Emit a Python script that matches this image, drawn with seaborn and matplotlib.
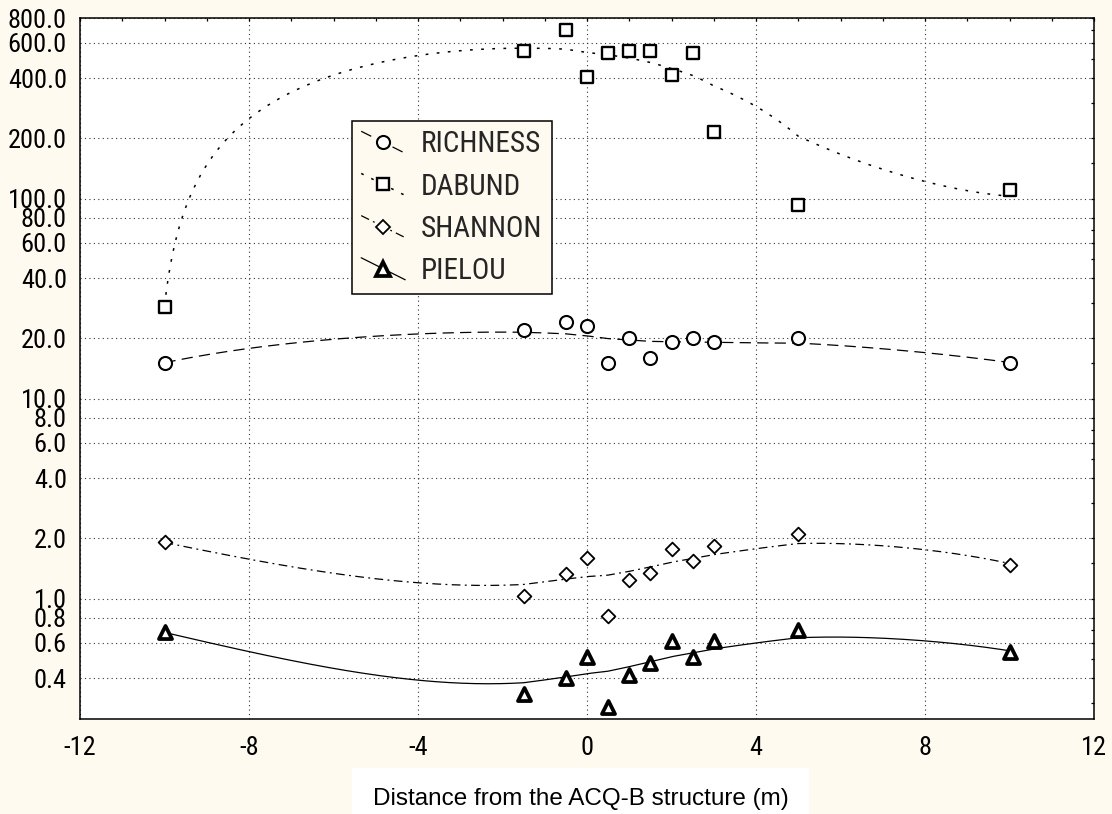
import numpy as np
import pandas as pd
import matplotlib
matplotlib.use("Agg")
import matplotlib.pyplot as plt
import seaborn as sns
from matplotlib import font_manager as fm
from matplotlib.lines import Line2D
from matplotlib.legend_handler import HandlerLine2D
from matplotlib.ticker import FixedLocator, FixedFormatter, NullFormatter

# ---------------- data ----------------
distance = [-10, -1.5, -0.5, 0, 0.5, 1, 1.5, 2, 2.5, 3, 5, 10]
richness = [15.1, 22.0, 24.1, 23.2, 15.1, 20.1, 16.0, 19.1, 20.1, 19.1, 20.1, 15.1]
dabund = [28.8, 545, 700, 404, 535, 550, 545, 417, 535, 215, 93.3, 111]
shannon = [1.91, 1.03, 1.32, 1.60, 0.816, 1.245, 1.345, 1.77, 1.54, 1.83, 2.11, 1.48]
pielou = [0.678, 0.334, 0.401, 0.509, 0.286, 0.417, 0.477, 0.612, 0.509, 0.617, 0.70, 0.543]
series_names = ["RICHNESS", "DABUND", "SHANNON", "PIELOU"]

y_ticks = [0.4, 0.6, 0.8, 1, 2, 4, 6, 8, 10, 20, 40, 60, 80, 100, 200, 400, 600, 800]
y_tick_labels = ["0.4", "0.6", "0.8", "1.0", "2.0", "4.0", "6.0", "8.0", "10.0", "20.0",
                 "40.0", "60.0", "80.0", "100.0", "200.0", "400.0", "600.0", "800.0"]
y_minor = [0.3, 0.5, 0.7, 1.5, 3, 5, 7, 15, 30, 50, 70, 150, 300, 500, 700]
x_ticks = [-12, -8, -4, 0, 4, 8, 12]
x_tick_labels = ["-12", "-8", "-4", "0", "4", "8", "12"]
x_label = "Distance from the ACQ-B structure (m)"

CREAM = "#FFFAF0"


def pick(cands):
    for c in cands:
        try:
            fm.findfont(fm.FontProperties(family=c), fallback_to_default=False)
            return c
        except Exception:
            pass
    return None


regular = pick(["Liberation Sans", "Arial"]) or "DejaVu Sans"


def find_narrow():
    prefs = ["Liberation Sans Narrow", "Arial Narrow", "Roboto Condensed",
             "Open Sans Condensed", "Noto Sans", "DejaVu Sans"]
    entries = [f for f in fm.fontManager.ttflist
               if f.style == "normal" and f.weight in (400, "normal", "regular")
               and (str(f.stretch) in ("condensed", "semi-condensed", "extra-condensed")
                    or "Narrow" in f.name or "Condensed" in f.name)]
    for p in prefs:
        for f in entries:
            if f.name == p:
                return f.fname
    return entries[0].fname if entries else None


narrow_file = find_narrow()
if narrow_file:
    tick_prop = fm.FontProperties(fname=narrow_file, size=19)
    leg_prop = fm.FontProperties(fname=narrow_file, size=21)
else:
    tick_prop = fm.FontProperties(family=regular, size=16.5)
    leg_prop = fm.FontProperties(family=regular, size=16.5)


def neg_exp_smooth(x, y, grid, h=3.0):
    """negative-exponentially weighted local quadratic least squares smoother"""
    x = np.asarray(x, float)
    y = np.asarray(y, float)
    out = []
    for g in grid:
        w = np.sqrt(np.exp(-np.abs(x - g) / h))
        X = np.column_stack([np.ones_like(x), x - g, (x - g) ** 2])
        coef, *_ = np.linalg.lstsq(X * w[:, None], y * w, rcond=None)
        out.append(coef[0])
    return np.array(out)


sns.set_theme(style="white")
plt.rcParams["font.family"] = [regular, "DejaVu Sans"]

fig = plt.figure(figsize=(11.12, 8.14), dpi=100, facecolor=CREAM)
ax = fig.add_axes([80 / 1112, 95 / 814, 1014 / 1112, 701 / 814])
ax.set_facecolor("white")

styles = {
    "RICHNESS": dict(ls=(0, (9, 5)), lw=0.9, marker="o", ms=9.4, mew=1.5),
    "DABUND": dict(ls=(0, (1.8, 5.5)), lw=1.1, marker="s", ms=8.6, mew=1.7),
    "SHANNON": dict(ls=(0, (7, 3.5, 1.5, 3.5)), lw=0.9, marker="D", ms=7.0, mew=1.3),
    "PIELOU": dict(ls="-", lw=0.9, marker="^", ms=9.4, mew=2.7),
}
values = {"RICHNESS": richness, "DABUND": dabund, "SHANNON": shannon, "PIELOU": pielou}

grid = np.linspace(min(distance), max(distance), 401)
for name in series_names:
    st = styles[name]
    fit = pd.DataFrame({"x": grid, "y": neg_exp_smooth(distance, values[name], grid)})
    sns.lineplot(data=fit, x="x", y="y", ax=ax, color="black", linewidth=st["lw"],
                 linestyle=st["ls"], errorbar=None, zorder=2)
    pts = pd.DataFrame({"x": distance, "y": values[name]})
    sns.scatterplot(data=pts, x="x", y="y", ax=ax, marker=st["marker"], s=st["ms"] ** 2,
                    color="white", edgecolor="black", linewidth=st["mew"], zorder=3)

ax.set_yscale("log")
ax.set_xlim(-12, 12)
ax.set_ylim(0.25, 800)
ax.xaxis.set_major_locator(FixedLocator(x_ticks))
ax.xaxis.set_major_formatter(FixedFormatter(x_tick_labels))
ax.xaxis.set_minor_locator(FixedLocator(np.arange(-12, 13, 1)))
ax.yaxis.set_major_locator(FixedLocator(y_ticks))
ax.yaxis.set_major_formatter(FixedFormatter(y_tick_labels))
ax.yaxis.set_minor_locator(FixedLocator(y_minor))
ax.yaxis.set_minor_formatter(NullFormatter())

ax.tick_params(which="both", direction="in", top=True, right=True, length=2.4,
               width=0.9, color="black")
ax.tick_params(axis="y", pad=9.5)
ax.tick_params(axis="x", pad=12)
for lab in ax.get_xticklabels() + ax.get_yticklabels():
    lab.set_fontproperties(tick_prop)
    lab.set_color("black")

ax.grid(True, which="major", linestyle=(0, (1, 3)), color="#333333", linewidth=0.8)
for sp in ax.spines.values():
    sp.set_color("black")
    sp.set_linewidth(1.1)
    sp.set_visible(True)

ax.set_xlabel(x_label, fontsize=17.5, color="black", family=regular,
              bbox=dict(boxstyle="square,pad=0.85", fc="white", ec="none"))
ax.xaxis.set_label_coords(0.494, -0.1148)
ax.xaxis.label.set_verticalalignment("center")
ax.set_ylabel("")


class DiagHandler(HandlerLine2D):
    def create_artists(self, legend, orig_handle, xdescent, ydescent, width, height,
                       fontsize, trans):
        xdata = np.linspace(-xdescent, width - xdescent, 3)
        yc = (height - ydescent) / 2
        drop = 0.25 * width
        ydata = np.array([yc + drop, yc, yc - drop])
        line = Line2D(xdata, ydata, markevery=[1])
        self.update_prop(line, orig_handle, legend)
        line.set_transform(trans)
        return [line]


handles = [Line2D([], [], color="black", linewidth=styles[n]["lw"], linestyle=styles[n]["ls"],
                  marker=styles[n]["marker"], markersize=styles[n]["ms"],
                  markeredgewidth=styles[n]["mew"], markerfacecolor="white",
                  markeredgecolor="black") for n in series_names]
leg_fs = leg_prop.get_size()
leg = ax.legend(handles, series_names, loc="upper left", bbox_to_anchor=(0.268, 0.853),
                borderaxespad=0, frameon=True, fancybox=False, framealpha=1,
                facecolor=CREAM, edgecolor="black", prop=leg_prop,
                handlelength=31.7 / leg_fs, handletextpad=11.5 / leg_fs,
                borderpad=6.8 / leg_fs, labelspacing=10.2 / leg_fs,
                handler_map={Line2D: DiagHandler(numpoints=1)})
leg.get_frame().set_linewidth(1.1)

fig.savefig("out.png", dpi=100, facecolor=CREAM)
